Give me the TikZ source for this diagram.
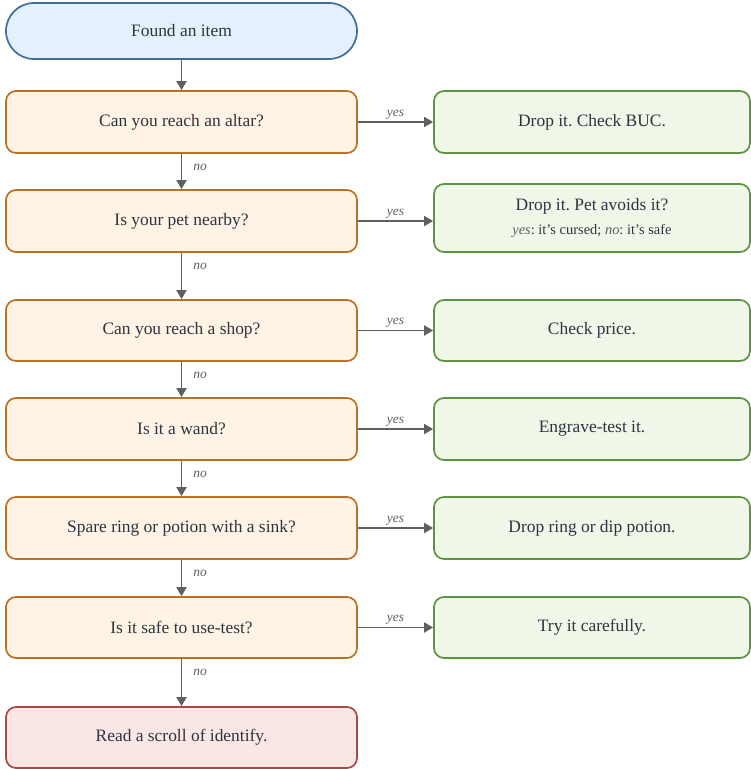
\documentclass[tikz,border=0pt]{standalone}
\usepackage{fontspec}
\setmainfont{Liberation Serif}[Ligatures=ResetAll]
\frenchspacing
\usetikzlibrary{arrows.meta}
\definecolor{startfill}{HTML}{E4F1FC}
\definecolor{startdraw}{HTML}{3F6E9E}
\definecolor{askfill}{HTML}{FEF3E5}
\definecolor{askdraw}{HTML}{BE6F26}
\definecolor{dofill}{HTML}{EFF7E8}
\definecolor{dodraw}{HTML}{5C9441}
\definecolor{endfill}{HTML}{FBE6E6}
\definecolor{enddraw}{HTML}{A84A42}
\definecolor{arrowgray}{HTML}{606060}
\definecolor{textgray}{HTML}{2E3440}

\begin{document}
\begin{tikzpicture}[x=1bp,y=-1bp]
    \tikzstyle{box}=[draw,line width=1.7bp,rounded corners=10bp,minimum width=351bp,minimum height=62bp,inner sep=0,text=textgray,align=center,font=\fontsize{17.5}{20}\selectfont]
    \tikzstyle{start node}=[box,rounded corners=28bp,fill=startfill,draw=startdraw,minimum height=56bp]
    \tikzstyle{ask node}=[box,fill=askfill,draw=askdraw]
    \tikzstyle{do node}=[box,fill=dofill,draw=dodraw,minimum width=316bp]
    \tikzstyle{end node}=[box,fill=endfill,draw=enddraw,minimum height=61bp]
    \tikzstyle{flow}=[draw=arrowgray,line width=1.8bp,-{Triangle[length=9bp,width=10bp]}]
    \tikzstyle{tag}=[text=arrowgray,font=\fontsize{13.5}{15}\selectfont\itshape,inner sep=2bp]
    \tikzstyle{no tag}=[tag,anchor=west,at start,xshift=9bp,yshift=-14bp]
    \useasboundingbox (0,0) rectangle (751,769);
    % left column
    \node(start)[start node] at (181.5,31){Found an item};
    \node(altar)[ask node] at (181.5,122){Can you reach an altar?};
    \node(pet)[ask node] at (181.5,221){Is your pet nearby?};
    \node(shop)[ask node,minimum height=61bp] at (181.5,330.5){Can you reach a shop?};
    \node(wand)[ask node] at (181.5,429){Is it a wand?};
    \node(sink)[ask node] at (181.5,528){Spare ring or potion with a sink?};
    \node(use)[ask node,minimum height=61bp] at (181.5,627.5){Is it safe to use-test?};
    \node(scroll)[end node] at (181.5,737.5){Read a scroll of identify.};
    % right column
    \node(buc)[do node] at (592,122){Drop it. Check BUC.};
    \node(avoid)[do node,minimum height=68bp] at (592,218){Drop it. Pet avoids it?\\[4bp]
        {\fontsize{14.5}{16}\selectfont{\color{arrowgray}\itshape yes}: it's cursed; {\color{arrowgray}\itshape no}: it's safe}};
    \node(price)[do node,minimum height=61bp] at (592,330.5){Check price.};
    \node(engrave)[do node] at (592,429){Engrave-test it.};
    \node(dip)[do node] at (592,528){Drop ring or dip potion.};
    \node(try)[do node,minimum height=61bp] at (592,627.5){Try it carefully.};
    % no arrows
    \draw[flow](start)--(altar);
    \draw[flow](altar)--node[no tag]{no}(pet);
    \draw[flow](pet)--node[no tag]{no}(shop);
    \draw[flow](shop)--node[no tag]{no}(wand);
    \draw[flow](wand)--node[no tag]{no}(sink);
    \draw[flow](sink)--node[no tag]{no}(use);
    \draw[flow](use)--node[no tag]{no}(scroll);
    % yes arrows
    \draw[flow](altar)--node[tag,above]{yes}(buc);
    \draw[flow](pet)--node[tag,above]{yes}(pet-|avoid.west);
    \draw[flow](shop)--node[tag,above]{yes}(price);
    \draw[flow](wand)--node[tag,above]{yes}(engrave);
    \draw[flow](sink)--node[tag,above]{yes}(dip);
    \draw[flow](use)--node[tag,above]{yes}(try);
\end{tikzpicture}
\end{document}
